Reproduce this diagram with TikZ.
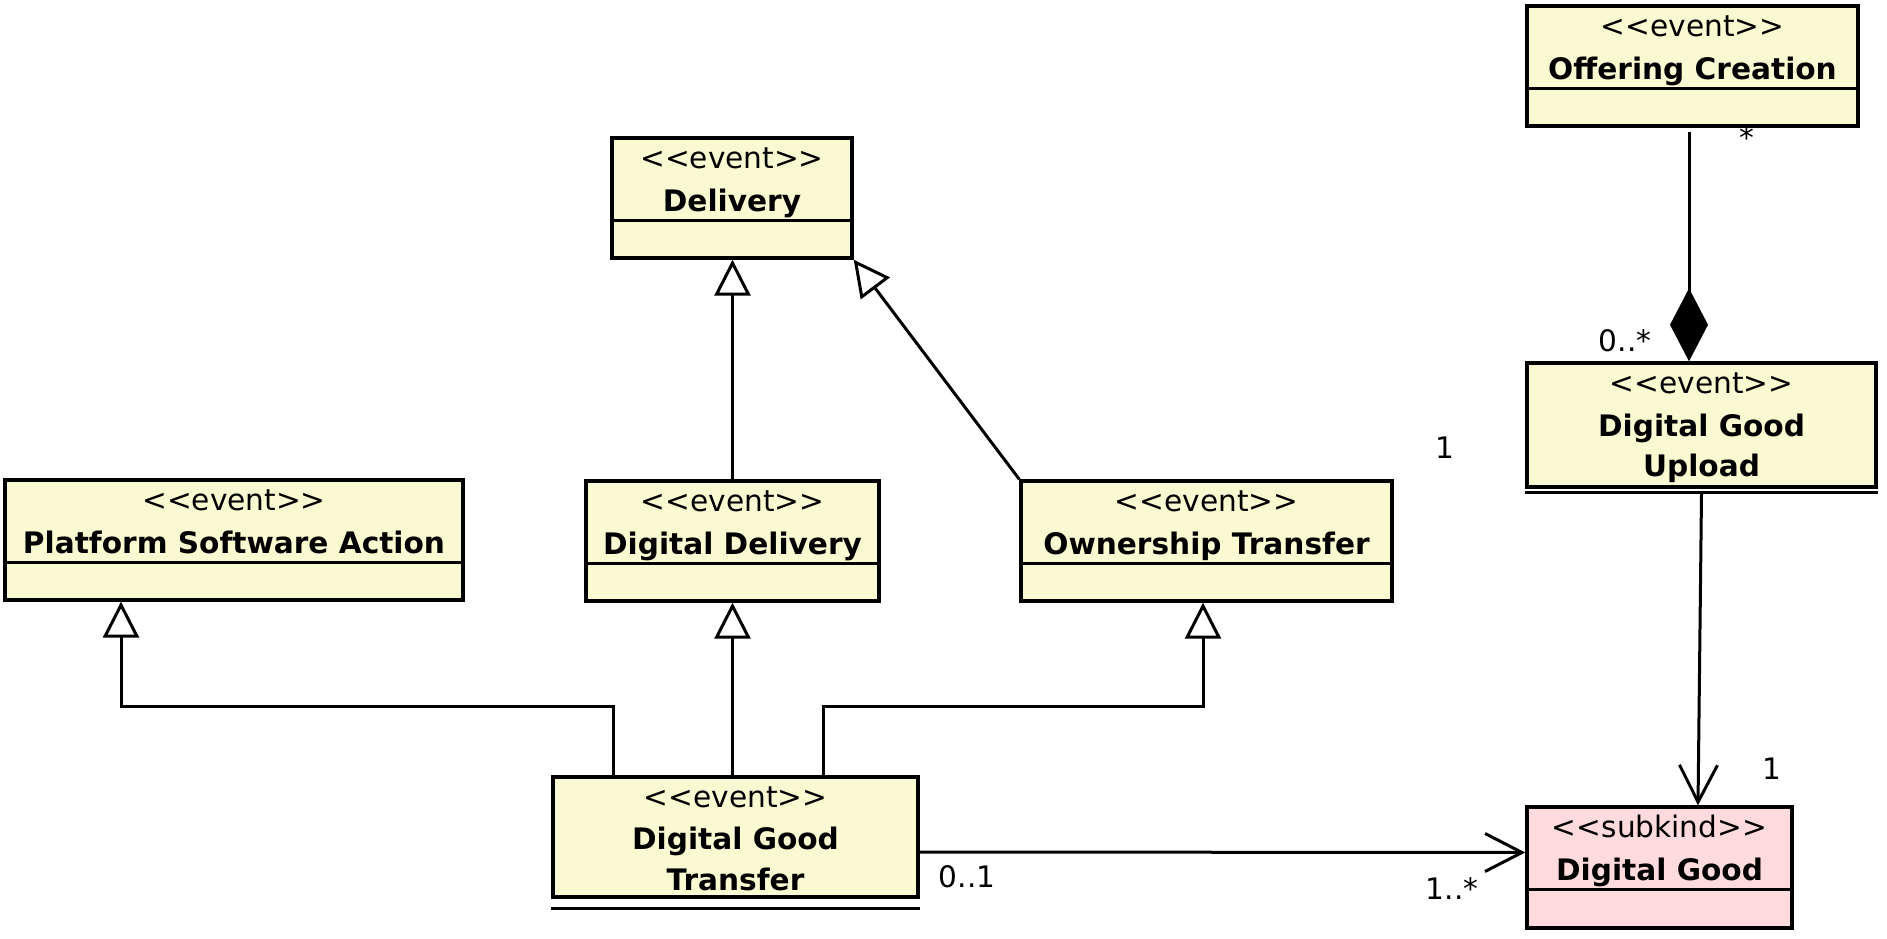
\documentclass[tikz,border=0pt]{standalone}
\usepackage{fontspec}
\setmainfont{DejaVu Sans}
\usepackage{tikz}
\usetikzlibrary{arrows.meta,calc,positioning}
\definecolor{eventyellow}{RGB}{250,250,210}
\definecolor{kindpink}{RGB}{255,219,222}
\newcommand\umlfont{\fontsize{29.6pt}{40pt}\selectfont}
\tikzset{
  box/.style={draw, line width=3.4pt, inner sep=0pt},
  event box/.style={box, fill=eventyellow},
  kind box/.style={box, fill=kindpink},
  stereo/.style={anchor=base, inner sep=0pt},
  class name/.style={anchor=base, inner sep=0pt, font=\umlfont\bfseries},
  divider/.style={line width=3.4pt},
  gen/.style={line width=3pt, -{Triangle[length=36pt,width=36pt,fill=white]}},
  assoc/.style={line width=3pt, -{Straight Barb[length=37pt,width=38pt]}},
  compose/.style={line width=3pt, -{Diamond[length=73pt,width=38pt,fill=black]}},
  mult/.style={anchor=base, inner sep=0pt}
}
\begin{document}
\begin{tikzpicture}[x=1pt,y=-1pt,font=\umlfont]
  \useasboundingbox (0,0) rectangle (1887,939);
  % classes
  \node[event box, minimum width=331pt, minimum height=120pt] (off) at (1692.5,66) {};
  \node[event box, minimum width=240pt, minimum height=120pt] (dlv) at (732,198) {};
  \node[event box, minimum width=458pt, minimum height=120pt] (psa) at (234,540) {};
  \node[event box, minimum width=293pt, minimum height=120pt] (dd) at (732.5,541) {};
  \node[event box, minimum width=371pt, minimum height=120pt] (ot) at (1206.5,541) {};
  \node[event box, minimum width=365pt, minimum height=120pt] (dgt) at (735.5,837) {};
  \node[event box, minimum width=349pt, minimum height=124pt] (dgu) at (1701.5,425) {};
  \node[kind box, minimum width=265pt, minimum height=121pt] (dg) at (1659.5,867.5) {};
  \foreach \b in {off,dlv,psa,dd,ot,dg}
    \draw[divider] ($(\b.north west)+(0,84)$) -- ($(\b.north east)+(0,84)$);
  \draw[divider] ($(dgt.south west)+(0,10)$) -- ($(dgt.south east)+(0,10)$); % squeezed compartment
  \draw[divider] ($(dgu.south west)+(0,4)$) -- ($(dgu.south east)+(0,4)$);
  \foreach \b in {off,dlv,psa,dd,ot,dgt,dgu}
    \node[stereo] (\b s) at ($(\b.north)+(0,32)$) {<{}<event>{}>};
  \node[stereo] (dg s) at ($(dg.north)+(0,32)$) {<{}<subkind>{}>};
  \node[class name] (off n) at ($(off.north)+(0,75)$) {Offering Creation};
  \node[class name] (dlv n) at ($(dlv.north)+(0,75)$) {Delivery};
  \node[class name] (psa n) at ($(psa.north)+(0,75)$) {Platform Software Action};
  \node[class name] (dd n) at ($(dd.north)+(0,75)$) {Digital Delivery};
  \node[class name] (ot n) at ($(ot.north)+(0,75)$) {Ownership Transfer};
  \node[class name] (dgt n) at ($(dgt.north)+(0,74)$) {Digital Good};
  \node[class name] (dgt m) at ($(dgt.north)+(0,115)$) {Transfer};
  \node[class name] (dgu n) at ($(dgu.north)+(0,75)$) {Digital Good};
  \node[class name] (dgu m) at ($(dgu.north)+(0,115)$) {Upload};
  \node[class name] (dg n) at ($(dg.north)+(0,75)$) {Digital Good};
  % generalizations
  \draw[gen] (dd.north) -- (dd.north |- dlv.south);
  \draw[gen] (ot.north west) -- (dlv.south east);
  \draw[gen] ([xshift=62pt]dgt.north west) -- ++(0,-69) -| ([xshift=-113pt]psa.south);
  \draw[gen] (dd.south |- dgt.north) -- (dd.south);
  \draw[gen] ([xshift=272pt]dgt.north west) -- ++(0,-69) -| ([xshift=-3.5pt]ot.south);
  % associations
  \draw[assoc] ([yshift=-15pt]dgt.east) -- ([yshift=15pt]dg.west);
  \draw[assoc] ([yshift=-5pt]dgu.south) -- ([xshift=38.5pt]dg.north);
  \draw[compose] ([xshift=-3.5pt,yshift=-4pt]off.south) -- ([xshift=-12.5pt]dgu.north);
  % multiplicities
  \node[mult] (m off) at (1747,149) {*};
  \node[mult] (m upl) at (1625,351) {0..*};
  \node[mult] (m one) at (1445,458) {1};
  \node[mult] (m dg) at (1772,779) {1};
  \node[mult] (m many) at (1452,899) {1..*};
  \node[mult] (m opt) at (967,887) {0..1};
\end{tikzpicture}
\end{document}
